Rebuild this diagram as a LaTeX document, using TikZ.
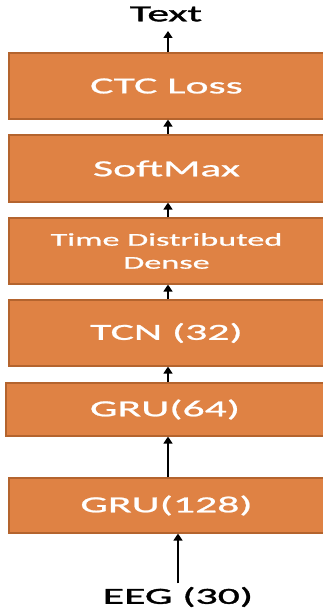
\documentclass[tikz,border=0pt]{standalone}
\usepackage{fontspec}
\usetikzlibrary{arrows.meta}
\newfontfamily\boxfont[FakeStretch=1.9,FakeBold=1]{Carlito}
\newfontfamily\labelfont[FakeStretch=1.9,FakeBold=1.5]{Carlito}
\definecolor{layerfill}{HTML}{DF8244}
\definecolor{layeredge}{HTML}{B4642E}

\begin{document}
\begin{tikzpicture}[x=1pt, y=1pt, >={Triangle[width=9pt,length=7pt]},
    layer/.style={rectangle, draw=layeredge, fill=layerfill, line width=1.2pt,
        minimum width=315pt, text=white, inner sep=0pt, align=center,
        font=\boxfont\fontsize{23}{23}\selectfont}]
    \useasboundingbox (0,0) rectangle (323,613);

    % Layers
    \node[layer, minimum height=66pt] (ctc) at (166.5,527) {CTC Loss};
    \node[layer, minimum height=67pt] (soft) at (166.5,444.5) {SoftMax};
    \node[layer, minimum height=66pt, font=\boxfont\fontsize{18}{23}\selectfont] (tdd) at (166.5,362)
        {Time Distributed\\Dense};
    \node[layer, minimum height=66pt] (tcn) at (166.5,280) {TCN (32)};
    \node[layer, minimum height=53pt, minimum width=318pt] (gru64) at (165,203.5) {GRU(64)};
    \node[layer, minimum height=55pt] (gru128) at (166.5,107.5) {GRU(128)};

    % Input and output
    \node[font=\labelfont\fontsize{23}{23}\selectfont] (text) at (166,599) {Text};
    \node[font=\labelfont\fontsize{23}{23}\selectfont] (eeg) at (178,16) {EEG (30)};

    \draw[->, line width=1.6pt, shorten >=6pt] (ctc.north -| 168,0) -- (text.south -| 168,0);
    \draw[->, line width=1.6pt] (soft.north -| 168,0) -- (ctc.south -| 168,0);
    \draw[->, line width=1.6pt] (tdd.north -| 168,0) -- (soft.south -| 168,0);
    \draw[->, line width=1.6pt] (tcn.north -| 168,0) -- (tdd.south -| 168,0);
    \draw[->, line width=1.6pt] (gru64.north -| 168,0) -- (tcn.south -| 168,0);
    \draw[->, line width=1.6pt] (gru128.north -| 168,0) -- (gru64.south -| 168,0);
    \draw[->, line width=1.6pt] (eeg.north -| 178,0) -- (gru128.south -| 178,0);
\end{tikzpicture}
\end{document}
